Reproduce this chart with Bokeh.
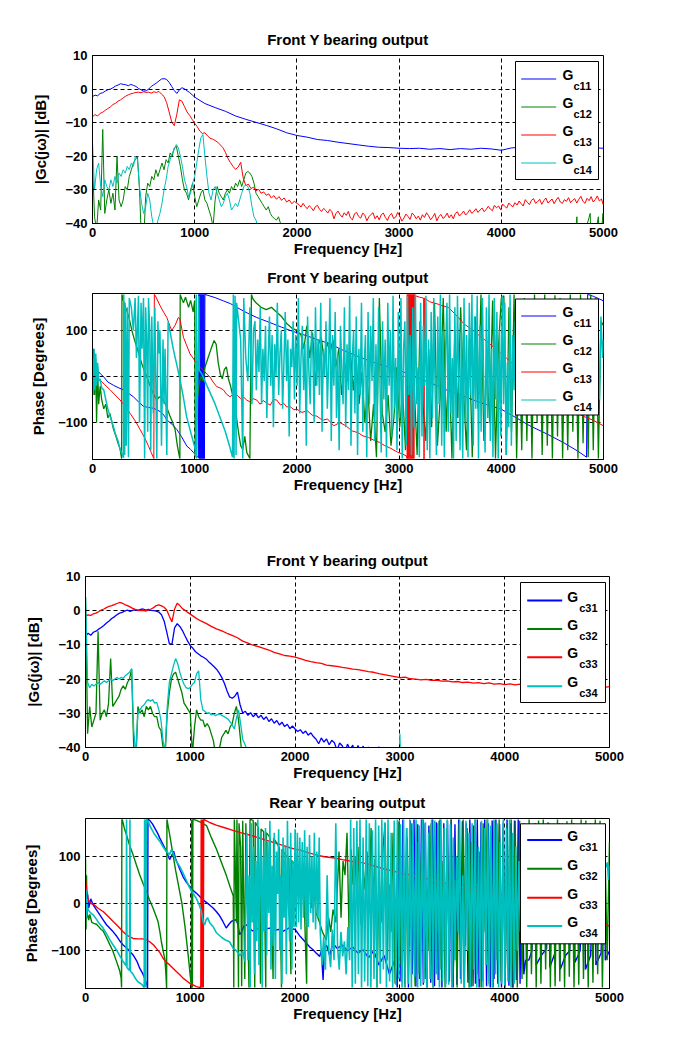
import numpy as np
from bokeh.plotting import figure
from bokeh.models import Range1d, FixedTicker
from bokeh.layouts import column
from bokeh.embed import file_html
from bokeh.resources import INLINE
from bokeh.core.properties import value

FONT = "Liberation Sans"
BLUE, GREEN, RED, CYAN = "#0000ff", "#008000", "#ff0000", "#00bfbf"
FREQ_TICKS = [0, 1000, 2000, 3000, 4000, 5000]
MAG_TICKS = [-40, -30, -20, -10, 0, 10]
PH_TICKS = [-100, 0, 100]
TITLES = ["Front Y bearing output", "Front Y bearing output",
          "Front Y bearing output", "Rear Y bearing output"]
YLABELS = ["|Gc(jω)| [dB]", "Phase [Degrees]", "|Gc(jω)| [dB]", "Phase [Degrees]"]
SUBS_TOP = ["c11", "c12", "c13", "c14"]
SUBS_BOT = ["c31", "c32", "c33", "c34"]

# ---------------- panel 1 : magnitude Gc11..Gc14 ----------------
G11_MAG_LO = [-2.2, -1.8, -2.0, -1.3, -1.1, -0.6, -0.2, 0.0, 0.4, 0.9, 1.2, 1.6, 1.4, 1.3, 1.0, 1.4,
              1.1, 0.8, 0.2, -0.2, -0.6, -0.5, 0.0, 0.8, 1.3, 1.8, 2.4, 3.0, 3.1, 2.9, 2.0, 0.8,
              -0.4, -1.3, -0.2, 0.4, 0.1, -0.5, -1.0, -1.7, -2.4]
G11_MAG_HI = [-2.4, -4.3, -5.5, -6.6, -8.0, -9.0, -9.9, -10.8, -11.8, -13.0, -13.8, -14.3, -15.0,
              -15.3, -15.8, -16.2, -16.6, -17.0, -17.3, -17.4, -17.6, -17.7, -17.6, -17.9, -17.7,
              -18.0, -17.7, -17.9, -17.6, -17.8, -18.2, -17.5, -17.3, -17.6, -17.8, -17.5, -17.7,
              -17.8, -17.6, -17.5, -17.6]
G12_MAG = [-22, -38, -42, -33, -36, -12, -37, -33, -30, -34, -31, -36, -20, -33, -35, -33, -29, -30,
           -26, -24, -22, -21, -20, -30, -46, -46, -32, -28, -29, -26, -27, -24, -26, -24, -22, -24,
           -21, -22, -19, -20, -17.5, -17, -20, -23, -27, -30, -31, -33, -30, -28, -32, -35, -33,
           -31, -30, -33, -34, -36, -38, -41, -33, -29, -31, -32, -33, -31, -30, -31, -29, -30, -28,
           -29, -27, -29, -27, -25, -24.5, -25, -26, -28, -31, -32, -33, -34, -35, -36, -35, -37,
           -38, -38.5, -39, -38, -40, -45]
G12_MAG_TAIL = [(1880, -50), (4700, -50), (4740, -38), (4750, -50), (4870, -37), (4880, -50),
                (4950, -38), (4960, -50), (4995, -37), (5000, -50)]
G13_MAG_LO = [-8.2, -7.6, -8.0, -7.2, -6.9, -6.3, -5.8, -5.3, -4.6, -4.2, -3.6, -3.2, -2.6, -2.1,
              -1.7, -1.4, -1.2, -1.0, -0.9, -1.1, -0.8, -1.0, -0.9, -1.2, -0.8, -1.0, -0.7, -1.5,
              -2.2, -4.0, -6.8, -9.8, -10.9, -7.5, -3.2, -3.6, -5.2, -6.8, -7.8, -9.0, -10.2]
G13_MAG_MID = [-10.2, -11.2, -12.5, -13.2, -13.0, -13.9, -14.6, -14.9, -15.3, -15.8, -16.6, -17.4,
               -18.8, -20.6, -21.9, -23.0, -23.9, -23.2, -21.8, -26.5, -28.7, -28.3, -29.6, -29.2,
               -30.3, -29.8, -31.0, -30.6, -31.6, -31.2, -32.4, -31.7, -32.8, -32.0, -33.1, -32.4,
               -33.6, -33.0, -34.1, -33.4, -34.0]
G13_MAG_HI = [-34.4, -35.1, -34.0, -34.9, -35.6, -34.7, -35.3, -36.2, -35.0, -34.6, -35.8, -36.4,
              -35.5, -36.1,
              -36.9, -35.8, -36.5, -38.6, -37.0, -36.3, -37.4, -38.1, -36.8, -37.6, -36.4, -38.3,
              -38.9, -37.1, -36.7,
              -37.9, -38.4, -36.9, -37.5, -39.2, -38.0, -37.3, -36.8, -38.6, -37.7, -38.9, -37.4,
              -36.9, -38.2, -39.1,
              -37.6, -37.0, -38.5, -38.1, -36.7, -37.8, -39.3, -38.4, -37.2, -37.9, -38.8, -36.9,
              -37.5, -38.6, -37.8,
              -39.0, -37.4, -38.2, -36.8, -37.7, -38.9, -38.1, -37.0, -39.2, -37.9, -37.3, -38.5,
              -38.0, -36.9, -38.3,
              -37.4, -38.6, -37.0, -36.5, -37.8, -37.1, -36.3, -37.5, -36.8, -35.9, -37.0, -36.4,
              -35.6, -36.7, -36.0,
              -35.4, -36.5, -35.8, -34.9, -35.7, -36.2, -34.6, -35.3, -34.8, -35.9, -34.2, -34.9,
              -35.4, -33.9, -34.6,
              -35.0, -33.8, -34.5, -33.3, -34.1, -34.8, -32.9, -33.7, -34.4, -33.1, -32.6, -34.0,
              -33.5, -32.8, -34.3,
              -33.2, -32.4, -33.9, -33.3, -32.7, -34.1, -33.0, -32.2, -33.6, -34.0, -32.9, -33.4,
              -32.3, -33.8, -33.1,
              -32.6, -33.9, -32.8, -31.9, -33.4, -34.0, -32.5, -33.2, -32.0, -33.6, -32.9, -31.8,
              -33.3, -32.7, -34.6]
G14_MAG = [-16, -30, -24, -22, -29, -32, -27, -29, -30, -27, -29, -26, -28, -25, -26, -24, -25, -23,
           -24, -22, -23, -20, -21, -29, -34, -37, -35, -31, -33, -38, -41, -43, -39, -37, -34, -30,
           -27, -23, -21, -19, -18, -16.5, -17.5, -20, -23, -27, -29, -32, -31, -28, -26, -22, -18,
           -14.5, -13.5, -20, -26, -31, -33, -30, -29, -31, -33, -35, -34, -32, -31, -33, -36, -35,
           -34, -35, -33, -31, -29, -28.5, -29, -31, -35, -38, -39, -42, -48]

# ---------------- panel 2 : phase Gc11..Gc14 ----------------
G11_PH = [(0, -20), (20, 15), (40, -10), (60, 10), (80, 5), (107, 0), (150, -12), (205, -19),
          (250, -24), (303, -29), (350, -36), (400, -44), (450, -55), (500, -65), (550, -67),
          (597, -69), (662, -76), (700, -84), (727, -94), (780, -104), (825, -115), (870, -130),
          (923, -151), (960, -158), (988, -165), (1036, -176), (1040, 178), (1045, -178),
          (1050, 178), (1055, -178), (1060, 178), (1065, -178), (1070, 178), (1075, -178),
          (1080, 178), (1085, -178), (1090, 178), (1095, -178), (1100, 178), (1200, 171),
          (1281, 164), (1350, 158), (1444, 146), (1520, 137), (1607, 128), (1700, 120),
          (1770, 114), (1850, 107), (1933, 100), (2000, 95), (2100, 88), (2200, 80), (2321, 71),
          (2450, 57), (2647, 39), (2800, 27), (3000, 14), (3150, 0), (3310, -14), (3450, -28),
          (3630, -43), (3800, -57), (4000, -71), (4150, -90), (4280, -107), (4450, -125),
          (4606, -143), (4750, -162), (4834, -175), (4845, 178), (4900, 174), (5000, 164)]
G12_PH = [(0, -30), (10, 60), (20, -40), (30, 40), (40, -100), (50, 20), (60, -60), (75, -21),
          (90, -50), (110, -70), (130, -60), (150, -90), (170, -80), (205, -114), (230, -130),
          (250, -145), (270, -157), (285, -178), (288, 178), (303, 164), (320, 150), (336, 143),
          (360, 125), (385, 100), (410, 80), (433, 64), (460, 45), (482, 28), (510, 10), (531, 0),
          (555, -15), (580, -29), (600, -40), (629, -51), (650, -45), (678, -44), (700, -55),
          (720, -62), (740, -75), (760, -87), (785, -100), (808, -115), (831, -151), (850, -173),
          (855, -178), (858, 178), (870, 170), (890, 160), (910, 172), (940, 150), (960, 165),
          (985, 140), (1000, 165), (1005, -175), (1020, -60), (1040, -20), (1060, 0), (1080, -10),
          (1100, 20), (1130, 40), (1160, 60), (1190, 78), (1210, 70), (1230, 30), (1250, 5),
          (1270, -5), (1290, 15), (1310, 21), (1330, -5), (1350, -20), (1370, -40), (1390, -64),
          (1410, -90), (1430, -123), (1450, -150), (1470, -158), (1490, -130), (1510, -165),
          (1540, -178), (1555, 178), (1570, 168), (1600, 160), (1650, 150), (1700, 145),
          (1750, 150), (1800, 140), (1850, 130), (1900, 115), (1950, 105), (2000, 100)]
G12_PH_MID = [90, 60, 110, 40, 95, -20, 70, 85, 30, 75, 50, 80, 20, 60, -40, 30, -10, 55, -30, 40,
              -60, 10, -100, -20, -140, -60, -175, 170, -80, -120, -40, -150, -90, 20, -110, -30,
              -160, 150, -100, -20, -170, 120, -60, -140, 60, -110, 160, -150, -40, 170,
              -120, 40, -178, 100, -90, 150, -30, -160, 80, -175, 130, -70, 178, -140, 20, -100,
              165, -178, 60, 170]
G12_PH_HI = [175, -170, 150, -120, 178, -178, 100, -160, 170, -140, 160, -178, 178, -100, 140,
             -170, 178, -150, 120, -178, 176, -130, 170, -178, 150, -160, 178, -120, 165, -178,
             178, -145, 130, -175, 178, -160, 170, -178, 120, 110]
G13_PH = [(0, 40), (15, 14), (30, -2), (75, -8), (120, -18), (173, -29), (220, -40), (270, -51),
          (320, -65), (368, -80), (420, -97), (466, -115), (510, -133), (548, -151), (575, -165),
          (590, -173), (600, -178), (605, 178), (613, 176), (662, 153), (700, 138), (727, 128),
          (760, 108), (776, 100), (808, 111), (840, 128), (855, 125), (890, 85), (920, 68),
          (955, 49), (990, 38), (1020, 28), (1050, 20), (1085, 14), (1120, 5), (1150, -1),
          (1180, -12), (1216, -22), (1250, -25), (1281, -29), (1310, -38), (1346, -44),
          (1380, -38), (1411, -40), (1450, -48), (1480, -45), (1509, -51), (1540, -55),
          (1570, -48), (1607, -51), (1640, -60), (1670, -52), (1705, -58), (1740, -62),
          (1770, -50), (1803, -51), (1840, -62), (1870, -58), (1900, -66), (1933, -65),
          (1970, -72), (2000, -71), (2050, -78), (2100, -74), (2150, -84), (2196, -86),
          (2250, -95), (2300, -92), (2360, -107), (2420, -100), (2480, -107), (2540, -118),
          (2600, -122), (2647, -129), (2700, -132), (2760, -139), (2810, -143), (2860, -150),
          (2920, -156), (2984, -164), (3030, -168), (3070, -172), (3078, -178), (3080, 178),
          (3085, -178), (3090, 178), (3095, -178), (3100, 178), (3105, -178), (3110, 178),
          (3115, -178), (3120, 178), (3125, -178), (3130, 178), (3135, -178), (3140, 178),
          (3145, -178), (3150, 178), (3160, 175), (3200, 172), (3240, 170), (3244, -179),
          (3248, 170), (3300, 162), (3380, 157), (3430, 153), (3480, 150), (3550, 135),
          (3635, 114), (3700, 104), (3800, 86), (3880, 72), (3960, 57), (4050, 40), (4150, 20),
          (4250, 5), (4350, -15), (4450, -35), (4519, -47), (4600, -60), (4700, -75),
          (4800, -86), (4900, -95), (5000, -107)]
G14_PH = [(0, 40), (8, -40), (16, 60), (24, -30), (32, 50), (40, -20), (50, 30), (60, -10),
          (75, -5), (90, -25), (110, -29), (130, -50), (150, -70), (173, -87), (200, -105),
          (222, -123), (250, -140), (270, -158), (290, -168), (303, -176), (306, 178), (315, -170),
          (320, 160), (330, -150), (340, 150), (352, -175), (360, 170), (380, 150), (400, 100),
          (417, 170), (430, 40), (450, 175), (460, -100), (475, 160), (485, 60), (499, 170),
          (510, -178), (520, 150), (530, 80), (540, -120), (548, 170), (560, 100), (570, -160),
          (580, 130), (595, -80), (610, 150), (629, -178), (640, 120), (650, 50), (660, 100),
          (675, -150), (690, 80), (700, -60), (710, 60), (727, -170), (740, 118), (765, 90),
          (790, 60), (820, 30), (850, 0), (885, -40), (920, -86), (960, -120), (1005, -157),
          (1012, -175), (1015, 178), (1020, -178), (1040, 175), (1045, 14), (1070, 5),
          (1100, -10), (1150, -35), (1200, -60), (1250, -90), (1300, -120), (1340, -150),
          (1370, -175), (1378, 178), (1385, -178), (1395, 175), (1405, -170), (1410, 160),
          (1430, 120), (1450, 80), (1470, -178), (1480, 170), (1500, 40), (1520, -10),
          (1540, 150), (1560, -60), (1575, 100)]
G14_PH_DENSE = [120, -30, 80, 10, 150, -60, 60, -10, 110, -90,
                40, 130, -20, 90, -110, 70, 0, 160, -40, 50,
                100, -70, 30, 140, -10, 80, -130, 60, 20, 120,
                -50, 90, -20, 170, -80, 40, 110, -30, 70, -150,
                130, 10, -60, 100, 50, -100, 150, -20, 80, -40,
                160, -120, 60, 0, 120, -70, 30, 170, -140, 90,
                -20, 140, -90, 50, -160, 110, 20, -60, 150, -110,
                70, -30, 175, -150, 40, 100, -80, 130, -170, 60,
                -40, 160, -120, 20, 90, -175, 140, -60, 110, -10,
                170, -140, 70, -100, 150, 0, -165, 120, -50, 80,
                -175, 160, -20, 100, -130, 175, -70, 40, -160, 140,
                -90, 170, -178, 60, 120, -150, 175, -40, 90, -170,
                150, -110, 178, -60, 20, -175, 160, -130, 110, -20,
                175, -160, 80, -178, 140, -90, 170, -30, -170, 130,
                -60, 178, -150, 100, -175, 60, 160, -120, 178, -80,
                40, -178, 150, -140, 175, -10, -160, 120, -178, 170,
                -100, 90, -175, 160, -40, 178, -150, 130, -70, 175,
                -178, 110, -120, 170, -20, -165, 150, -90, 178, -140,
                60, -175, 170, -50, 140, -178, 100, -130, 175, -60,
                160, -170, 30, -110, 178, -150, 90, -30, 120, 100]
G14_PH_TAIL = [(4170, 60), (4300, -30), (4450, 80), (4600, -40), (4750, 50), (4900, 0),
               (4960, -50), (4975, 130), (4990, 40), (5000, 80)]

# ---------------- panel 3 : magnitude Gc31..Gc34 ----------------
G31_MAG_LO = [-7.4, -6.6, -7.2, -6.3, -6.0, -5.4, -4.9, -4.3, -3.6, -3.0, -2.3, -1.8, -1.2, -0.7,
              -0.5, -0.1, 0.2, -0.2, 0.1, 0.3, 0.0, 0.4, 0.5, 0.2, 0.4, 0.1, 0.0, -0.1, -0.4, -1.2,
              -3.0, -6.2, -9.6, -9.8, -5.0, -3.8, -4.6, -5.8, -7.4, -8.9, -10.2]
G31_MAG_MID = [-10.2, -11.0, -12.0, -12.6, -13.2, -13.6, -14.1, -14.9, -15.6, -16.3, -17.1, -18.2,
               -19.5, -21.2, -23.4, -25.2, -25.6, -25.0, -23.8, -27.5, -29.9, -29.4, -30.6, -29.8,
               -31.0, -30.2, -31.3, -30.6, -31.8, -31.0, -32.4, -31.6, -32.9, -32.1, -33.4, -32.6,
               -33.9, -33.2, -34.5, -33.7, -34.6]
G31_MAG_HI = [-34.6, -35.3, -34.8, -35.9, -35.2, -36.4, -35.7, -36.8, -37.6, -38.9, -37.2, -38.4,
              -37.5, -39.2, -37.9, -38.6, -40.8, -38.7, -39.5, -41.5, -39.0, -40.6, -39.3, -42.0,
              -39.4, -41.2, -39.6, -43.0, -39.8, -44.0, -45.0, -42.0, -39.8, -43.0, -46.0, -48.0,
              -50.0]
G32_MAG = [4, -36, -28, -34, -32, -30, -6, -32, -30, -29, -31, -27, -14, -28, -27, -26, -25, -23,
           -22, -23, -21, -20, -17, -40, -45, -28, -30, -29, -31, -28, -29, -28, -30, -31, -31,
           -34, -35, -40, -42, -30, -24, -20, -18.5, -18, -20, -22, -24, -27, -28, -29, -30, -42,
           -34, -29, -31, -32, -32, -34, -33, -34, -36, -38, -42, -44, -40, -37, -36, -35, -36,
           -34, -33, -30, -28, -32, -38, -45]
G33_MAG_LO = [-1.5, -1.2, -1.4, -0.9, -0.7, -0.3, 0.2, 0.5, 0.9, 1.3, 1.5, 1.8, 2.1, 2.4, 2.2, 1.8,
              1.5, 1.1, 0.7, 0.4, 0.2, 0.0, 0.1, -0.1, 0.2, 0.5, 0.9, 1.5, 1.7, 1.4, 1.0, 0.2,
              -1.6, -3.3, 0.5, 2.2, 1.5, 0.6, 0.1, -0.5, -1.0]
G33_MAG_HI = [-1.0, -2.1, -3.0, -3.7, -4.6, -5.3, -5.9, -6.6, -7.2, -7.9, -8.9, -9.5, -10.1, -10.5,
              -11.0, -11.5, -12.2, -12.6, -13.1, -13.3, -13.6, -14.0, -14.5, -14.9, -15.2, -15.4,
              -15.9, -16.1, -16.3, -16.6, -16.8, -17.1, -17.2, -17.5, -17.8, -18.0, -18.4, -18.7,
              -19.0, -19.3, -19.6, -19.4, -19.9, -20.0, -20.2, -20.1, -20.4, -20.3, -20.6, -20.5,
              -20.8, -20.7, -21.0, -20.9, -21.2, -21.0, -21.3, -21.1, -21.5, -21.3, -21.6, -21.4,
              -21.7, -21.5, -21.8, -21.6, -21.9, -21.7, -21.9, -21.8, -22.0, -21.8, -22.1, -21.9,
              -22.2, -22.0, -22.3, -22.0, -22.2, -22.4, -22.2]
G34_MAG = [4, -21, -22.5, -21.5, -22, -21.5, -21, -21.5, -21, -20.5, -21, -20.5, -20, -20.5, -20,
           -19.5, -20, -19.5, -19.8, -19, -18.5, -18, -17, -35, -42, -30, -29, -28, -27.5, -26.5,
           -26, -26.5, -26, -27, -26.8, -29, -32, -38, -41, -28, -21, -18.5, -16, -14, -15.5, -18,
           -20, -21.5, -22.5, -22.8, -22.5, -21.5, -21, -18.5, -17.6, -26, -29, -29.5, -30, -29.8,
           -30.5, -30.2, -30.7, -30.4, -30.2, -30.6, -30.9, -31.3, -31.7, -32.5, -33.4, -34.6,
           -31.5, -29, -33, -37.6, -39, -40.5, -45]
G34_MAG_TAIL = [(1580, -50), (2990, -50), (3000, -36), (3010, -50)]

# ---------------- panel 4 : phase Gc31..Gc34 ----------------
G31_PH = [(0, 30), (10, -30), (20, 20), (30, -10), (50, 10), (73, -3), (100, -12), (137, -24),
          (170, -35), (200, -45), (230, -52), (264, -60), (300, -70), (330, -80), (359, -88),
          (400, -96), (454, -109), (490, -122), (517, -137), (545, -148), (565, -158), (587, -173),
          (592, -179), (596, 178), (613, 176), (640, 168), (660, 160), (690, 148), (708, 139),
          (740, 125), (771, 111), (790, 100), (803, 93), (820, 100), (841, 111), (860, 95),
          (883, 82), (905, 70), (930, 57), (960, 46), (994, 36), (1025, 28), (1057, 22),
          (1090, 15), (1121, 8), (1150, 3), (1184, -3), (1215, -9), (1248, -17), (1280, -26),
          (1311, -38), (1343, -52), (1365, -45), (1391, -38), (1415, -36), (1438, -34),
          (1455, -45), (1470, -66), (1490, -60), (1510, -48), (1533, -45), (1560, -50),
          (1590, -58), (1629, -56), (1660, -50), (1700, -55), (1756, -52), (1800, -57),
          (1840, -55), (1883, -59), (1940, -52), (2000, -55), (2050, -70), (2108, -84),
          (2140, -92), (2171, -98), (2200, -105), (2235, -112), (2250, -100), (2267, -162),
          (2280, -95), (2300, -88), (2330, -110), (2362, -84), (2400, -95), (2450, -88),
          (2500, -100), (2550, -92), (2600, -105), (2650, -98), (2700, -115), (2750, -100),
          (2800, -130), (2850, -110), (2900, -150), (2950, -120)]
G31_PH_DENSE = [-178, 172, -165, 178, -170, 160, -178, 175, -150, 178,
                -176, 168, -160, 178, -172, 170, -178, 165, -168, 178,
                -175, 172, -162, 178, -178, 170, -170, 176, -165, 178,
                -178, 168, -172, 178, -160, 174, -178, 170, -168, 178,
                -176, 165, -170, 178, -178, 172, -164, 178, -175, 170,
                -178, 176, -160, 178, -170, 168, -178, 172, -166, 178,
                -174, 170, -178, 176, -162, 178, -170, 160, -150, -120]
G31_PH_TAIL = [(4230, -120), (4260, -100), (4290, 170), (4300, -130), (4350, -110), (4400, -95),
               (4420, 170), (4430, -135), (4480, -105), (4520, 170), (4530, -140), (4580, -110),
               (4620, -100), (4660, 170), (4670, -125), (4720, -100), (4760, 170), (4770, -140),
               (4820, -110), (4860, 170), (4870, -130), (4920, -105), (4950, 170), (4960, -120),
               (5000, -100)]
G32_PH = [(0, 97), (5, -55), (10, 60), (15, -30), (20, -23), (30, -35), (41, -23), (60, -40),
          (80, -42), (105, -44), (130, -50), (150, -55), (168, -58), (200, -72), (232, -87),
          (260, -100), (295, -122), (310, -132), (327, -143), (340, -158), (344, -178), (347, 178),
          (352, 177), (370, 160), (390, 146), (420, 124), (454, 103), (485, 82), (517, 61),
          (550, 42), (581, 26), (610, 8), (645, -10), (670, -25), (692, -38), (710, -60),
          (724, -81), (740, -100), (756, -116), (765, -140), (771, -166), (774, -179), (777, 178),
          (800, 150), (830, 110), (860, 70), (890, 35), (920, 0), (950, -50), (980, -110),
          (1005, -165), (1010, -179), (1013, 178), (1020, -178), (1025, 178), (1060, 176),
          (1100, 172), (1155, 165), (1200, 140), (1250, 115), (1300, 85), (1346, 58), (1380, 35),
          (1410, 16), (1415, -178), (1420, 178), (1440, -40), (1445, 178), (1460, -178),
          (1465, 170), (1480, 120), (1490, -175), (1500, 175), (1520, -160), (1530, 170),
          (1560, -178), (1570, 178), (1600, 176), (1615, -178), (1620, 172), (1650, 160),
          (1670, -170), (1675, 158), (1700, 152), (1720, -178), (1725, 150), (1760, 140),
          (1790, -160), (1795, 138), (1820, 130), (1850, 118), (1870, -178), (1875, 115),
          (1900, 105), (1940, 95), (1960, -150), (1965, 92), (2000, 80), (2044, 72), (2080, 60),
          (2110, -170), (2115, 55), (2140, 44), (2160, -10), (2180, 30), (2200, -20), (2235, -41),
          (2260, -60), (2298, -77), (2320, -30), (2340, -60), (2362, -13), (2390, -40)]
G32_PH_MID = [20, 110, -30, 90, 60, 150, -60, 115, 40, 100,
              0, 120, -45, 80, 30, 110, -20, 160, 10, 95,
              -178, 70, -40, 120, 170, -120, 40, -60, 150, -170,
              20, 175, -130, 60, -178, 140, -90, 170, -10, -175,
              130, -150, 80, 178, -160, 30, -100, 170, -178, 120,
              -60, 175, -140, 90, -178, 160, -110, 178, -170, 50,
              -178, 170, -130, 178, -90, 160, -178, 130, -175, 178,
              -150, 110, -178, 170, -60, 178, -170, 140, -178, 175,
              -120, 178, -165, 160, -178, 170, -140, 178, -178, 175]
G32_PH_HI = [-178, 175, -160, 170, -178, 178, -150, 165, -178, 176, -170, 178, -140, 172, -178, 160,
             -175, 178, -165, 170, -178, 174, -155, 178, -178, 168, -172, 178, -160, 176, -178,
             170, -168, 178, -150, 175, -178, 140, -120, 130]
G33_PH = [(0, 50), (10, 30), (25, 8), (50, 0), (73, -1), (120, -10), (168, -17), (215, -27),
          (264, -38), (310, -48), (359, -60), (400, -68), (454, -74), (500, -75), (549, -75),
          (580, -77), (613, -81), (650, -88), (676, -95), (710, -104), (740, -116), (770, -124),
          (803, -130), (835, -137), (867, -144), (900, -151), (930, -158), (960, -163),
          (994, -169), (1030, -173), (1057, -176), (1080, -177), (1100, -178), (1104, 178),
          (1108, -178), (1112, 178), (1116, -178), (1120, 178), (1124, -178), (1128, 178),
          (1137, 177), (1190, 171), (1248, 166), (1320, 161), (1407, 155), (1480, 150),
          (1565, 145), (1640, 140), (1724, 134), (1800, 129), (1883, 123), (1950, 118),
          (2000, 115), (2050, 113), (2100, 109), (2150, 106), (2200, 103), (2280, 99),
          (2362, 97), (2450, 93), (2550, 89), (2648, 86), (2750, 80), (2850, 73), (3000, 65),
          (3150, 58), (3290, 51), (3450, 42), (3610, 33), (3800, 26), (4000, 19), (4120, 12),
          (4300, 0), (4500, -12), (4700, -25), (4850, -36), (5000, -48)]
G34_PH = [(0, -20), (5, 30), (10, -30), (15, 10), (20, -10), (30, -15), (50, -20), (73, -24),
          (100, -32), (130, -42), (168, -52), (200, -64), (230, -76), (264, -88), (300, -100),
          (330, -112), (359, -123), (388, -132), (392, 178), (396, -136), (420, -142), (424, 178),
          (428, -143), (454, -150), (480, -160), (502, -166), (540, -172), (560, -178), (564, 178),
          (575, -178), (580, 178), (597, 175), (620, 162), (660, 146), (708, 132), (740, 120),
          (771, 110), (803, 104), (820, 114), (835, 107), (860, 92), (900, 78), (930, 65),
          (960, 50), (994, 33), (1030, 20), (1057, 11), (1080, 0), (1105, -16), (1124, -40),
          (1137, -45), (1150, -35), (1165, -30), (1184, -40), (1220, -50), (1250, -62),
          (1300, -72), (1340, -78), (1375, -81), (1410, -95), (1440, -100), (1473, -110),
          (1502, -102), (1520, -123)]
G34_PH_D1 = [150, -120, 60, -178, 170, -40, 120, -150, 90, -80,
             178, -130, 40, 150, -178, 100, -60, 160, -110, 130,
             -20, 175, -140, 80, -90, 150, -160, 110, 20, 157,
             -100, 60, -170, 140, -30, 120, -150, 175, 0, -80,
             150, -140, 90, -50, 157]
G34_PH_D2 = [-50, 150, -40, 140, -55, 130, -30, 155, -45, 120, -50, 145, -20, 100, -40, 150, -55,
             110, -30, 140]
G34_PH_D3 = [-60, -130, -70, -140, 60, -100, -135, -55, -120, 170, -90, -140, -60, -112, -80, -150,
             -50, -120]
G34_PH_D4 = [178, -178, 160, -170, 175, -150, 178, -178, 140, -165,
             178, -175, 170, -178, 155, -160, 178, -178, 165, -170,
             178, -140, 172, -178, 178, -165, 150, -178, 176, -172,
             178, -160, 168, -178, 178, -175, 160, -170, 178, -178,
             170, -155, 178, -178, 165, -175, 178, -168, 172, -178,
             150, -160, 178, -178, 176, -150, 170, -178, 178, -165,
             160, -176, 178, -172, 168, -178, 140, -120, 100, -60,
             178, -170, 60, -178, 175, -100, 150, -178, 170, -140,
             178, -178, 120, -160, 175, -178, 160, -130, 178, -175,
             165, -178, 178, -150, 170, -178, 130, -170, 178, -178,
             160, -165, 178, -178, 150, -170, 120, -100, 90, -60]
G34_PH_TAIL = [(4160, 30), (4300, 60), (4500, 20), (4700, 60), (4900, 40), (4980, 87), (4990, 50),
               (5000, 80)]


def seg(f0, f1, vals):
    return np.linspace(f0, f1, len(vals)), np.asarray(vals, dtype=float)


def pts(pairs):
    a = np.asarray(pairs, dtype=float)
    return a[:, 0], a[:, 1]


def join(*parts):
    return (np.concatenate([q[0] for q in parts]), np.concatenate([q[1] for q in parts]))


GEOM = {}


def make_fig(fw, fh, bl, br, bt, bb, yr, yticks, title, ylabel, ystand):
    p = figure(frame_width=fw, frame_height=fh, min_border_left=bl, min_border_right=br,
               min_border_top=bt, min_border_bottom=bb,
               x_range=Range1d(0, 5000), y_range=Range1d(*yr),
               output_backend="svg", toolbar_location=None, tools="")
    p.title.text = title
    p.title.align = "center"
    p.title.text_font = FONT
    p.title.text_font_size = "15px"
    p.title.text_font_style = "bold"
    p.title.text_color = "black"
    p.title.text_line_height = 1.0
    p.title.standoff = 15
    p.outline_line_color = "black"
    p.outline_line_alpha = 1
    p.outline_line_width = 1
    p.background_fill_color = "white"
    p.border_fill_color = "white"
    for ax, ticks in ((p.xaxis, FREQ_TICKS), (p.yaxis, yticks)):
        ax.ticker = FixedTicker(ticks=ticks)
        ax.major_label_text_font = FONT
        ax.major_label_text_font_size = "13px"
        ax.major_label_text_font_style = "bold"
        ax.major_label_text_color = "black"
        ax.major_label_text_line_height = 1.0
        ax.axis_line_color = "black"
        ax.major_tick_line_color = "black"
        ax.major_tick_in = 3
        ax.major_tick_out = 0
        ax.minor_tick_line_color = None
        ax.axis_label_text_font = FONT
        ax.axis_label_text_font_size = "15px"
        ax.axis_label_text_font_style = "bold"
        ax.axis_label_text_color = "black"
        ax.axis_label_text_line_height = 1.0
        ax.major_label_standoff = 5
    p.xaxis.major_label_standoff = 4
    p.xaxis.axis_label = "Frequency [Hz]"
    p.xaxis.axis_label_standoff = 0
    p.yaxis.axis_label = ylabel
    p.yaxis.axis_label_standoff = ystand
    for g in (p.xgrid, p.ygrid):
        g.grid_line_color = "black"
        g.grid_line_dash = "4 3"
        g.grid_line_alpha = 1
        g.grid_line_width = 1
    GEOM[p.id] = dict(fw=fw, fh=fh, ylo=yr[0], yhi=yr[1])
    return p


def px2data(p, x, y):
    m = GEOM[p.id]
    return x * 5000.0 / m["fw"], m["yhi"] - y * (m["yhi"] - m["ylo"]) / m["fh"]


def add_legend(p, box, ys, xline, xg, xs, subs, lw):
    l, r, t, b = box
    x0, y0 = px2data(p, l, t)
    x1, y1 = px2data(p, r, b)
    p.quad(left=[x0], right=[x1], top=[y0], bottom=[y1], fill_color="white", fill_alpha=1,
           line_color="black", line_width=1, level="overlay")
    colors = [BLUE, GREEN, RED, CYAN]
    for i, y in enumerate(ys):
        a, yy = px2data(p, xline[0], y)
        c, _ = px2data(p, xline[1], y)
        p.line([a, c], [yy, yy], line_color=colors[i], line_width=lw, level="overlay")
        gx, gy = px2data(p, xg, y - 4)
        p.text([gx], [gy], text=["G"], text_font=value(FONT), text_font_size=value("14px"),
               text_font_style=value("bold"), text_baseline=value("middle"),
               text_align=value("left"), text_color="black", level="overlay")
        sx, sy = px2data(p, xs, y + 7)
        p.text([sx], [sy], text=[subs[i]], text_font=value(FONT), text_font_size=value("11px"),
               text_font_style=value("bold"), text_baseline=value("middle"),
               text_align=value("left"), text_color="black", level="overlay")


def draw(p, series, widths):
    for (f, v), col, lw in zip(series, [BLUE, GREEN, RED, CYAN], widths):
        p.line(f, v, line_color=col, line_width=lw)


# ---- panel 1
p1 = make_fig(511, 168, 92, 25, 55, 36, (-40, 10), MAG_TICKS, TITLES[0], YLABELS[0], 13)
draw(p1, [join(seg(0, 1000, G11_MAG_LO), seg(1100, 5000, G11_MAG_HI[1:])),
          join(seg(0, 1860, G12_MAG), pts(G12_MAG_TAIL)),
          join(seg(0, 1000, G13_MAG_LO), seg(1025, 2000, G13_MAG_MID[1:]), seg(2020, 5000, G13_MAG_HI)),
          seg(0, 1640, G14_MAG)], [1.0, 1.0, 1.0, 1.0])
add_legend(p1, (423, 506, 6, 124), [23.5, 51.5, 79.5, 107.5], (428.7, 463.7), 470, 481,
           SUBS_TOP, 1.0)

# ---- panel 2
p2 = make_fig(511, 166, 92, 25, 32, 44, (-180, 180), PH_TICKS, TITLES[1], YLABELS[1], 8)
draw(p2, [pts(G11_PH),
          join(pts(G12_PH), seg(2040, 4000, G12_PH_MID), seg(4025, 5000, G12_PH_HI)),
          pts(G13_PH),
          join(pts(G14_PH), seg(1590, 4150, G14_PH_DENSE), pts(G14_PH_TAIL))],
     [1.0, 1.3, 1.0, 1.5])
add_legend(p2, (423, 506, 5.5, 121.5), [22.5, 50.5, 78.5, 106.5], (428.7, 463.7), 470, 481,
           SUBS_TOP, 1.2)

# ---- panel 3
p3 = make_fig(524, 171, 85, 19, 73, 36, (-40, 10), MAG_TICKS, TITLES[2], YLABELS[2], 13)
draw(p3, [join(seg(0, 1000, G31_MAG_LO), seg(1025, 2000, G31_MAG_MID[1:]), seg(2025, 2900, G31_MAG_HI[1:])),
          seg(0, 1500, G32_MAG),
          join(seg(0, 1000, G33_MAG_LO), seg(1050, 5000, G33_MAG_HI[1:])),
          join(seg(0, 1560, G34_MAG), pts(G34_MAG_TAIL))], [1.3, 1.3, 1.3, 1.3])
add_legend(p3, (435, 520, 6, 126), [24, 52.4, 80.7, 109.7], (441.7, 476.7), 481.7, 493.7,
           SUBS_BOT, 2.0)

# ---- panel 4
p4 = make_fig(524, 170, 85, 19, 35, 44, (-180, 180), PH_TICKS, TITLES[3], YLABELS[3], 8)
draw(p4, [join(pts(G31_PH), seg(2975, 4200, G31_PH_DENSE), pts(G31_PH_TAIL)),
          join(pts(G32_PH), seg(2400, 4100, G32_PH_MID), seg(4120, 5000, G32_PH_HI)),
          pts(G33_PH),
          join(pts(G34_PH), seg(1540, 2000, G34_PH_D1), seg(2010, 2230, G34_PH_D2),
               seg(2240, 2520, G34_PH_D3), seg(2530, 4150, G34_PH_D4), pts(G34_PH_TAIL))],
     [1.4, 1.4, 1.4, 1.6])
add_legend(p4, (435, 520, 5.3, 125.3), [21.6, 50.3, 79.3, 107.6], (441.7, 476.7), 481.7, 493.7,
           SUBS_BOT, 2.0)

layout = column(column(p1, p2, spacing=0), column(p3, p4, spacing=0), spacing=0)
open("out.html", "w").write(file_html(layout, INLINE, title="Bearing output"))
